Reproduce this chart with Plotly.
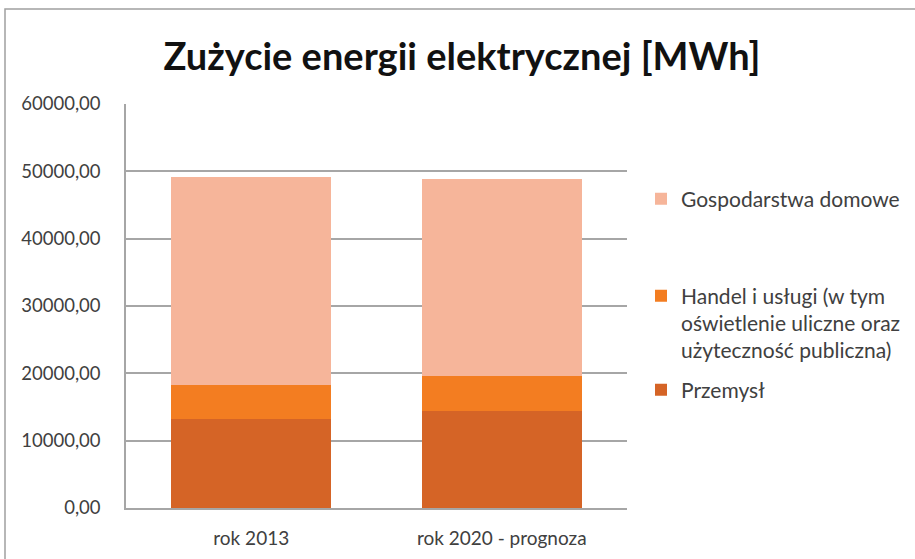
import plotly.graph_objects as go

# Electricity consumption by sector [MWh]
categories = ["rok 2013", "rok 2020 - prognoza"]
przemysl = [13270, 14410]
handel = [4960, 5250]
gospodarstwa = [30910, 29180]

series_names = [
    "Przemysł",
    "Handel i usługi (w tym<br>oświetlenie uliczne oraz<br>użyteczność publiczna)",
    "Gospodarstwa domowe",
]
series_values = [przemysl, handel, gospodarstwa]
series_colors = ["#D56426", "#F37D21", "#F6B59A"]
legend_ids = ["legend3", "legend2", "legend"]

FONT = "Lato"
TEXT = "#404040"
GRID = "#a6a6a6"

fig = go.Figure()
for name, vals, col, lg in zip(series_names, series_values, series_colors, legend_ids):
    fig.add_trace(go.Bar(
        x=categories, y=vals, name=name,
        marker=dict(color=col, line=dict(width=0)),
        legend=lg, showlegend=True,
    ))

W, H = 915, 559
ml, mr, mt, mb = 126, 288, 104, 51
pw, ph = W - ml - mr, H - mt - mb

def px_x(p):
    return (p - ml) / pw

def px_y(p):
    return (H - mb - p) / ph

legend_style = dict(
    x=px_x(641), xanchor="left", yanchor="middle", valign="top",
    font=dict(family=FONT, size=21, color=TEXT),
    bgcolor="rgba(0,0,0,0)",
)

fig.update_layout(
    width=W, height=H,
    margin=dict(l=ml, r=mr, t=mt, b=mb, autoexpand=False),
    paper_bgcolor="white", plot_bgcolor="white",
    barmode="stack", bargap=0.36,
    separators=", ",
    showlegend=True,
    font=dict(family=FONT, size=19, color=TEXT),
    title=dict(
        text="<b>Zużycie energii elektrycznej [MWh]</b>",
        font=dict(family=FONT, size=38, color="#111111"),
        x=462 / W, xanchor="center",
        y=1 - 57 / H, yanchor="middle",
    ),
    legend=dict(legend_style, y=px_y(199)),
    legend2=dict(legend_style, y=px_y(323)),
    legend3=dict(legend_style, y=px_y(390)),
    xaxis=dict(
        showgrid=False, showline=True, linecolor=GRID, linewidth=1.5,
        ticks="", ticklabelstandoff=12,
        tickfont=dict(family=FONT, size=19, color=TEXT),
    ),
    yaxis=dict(
        range=[0, 60000], dtick=10000, tickformat=".2f",
        showgrid=True, gridcolor=GRID, gridwidth=1.5,
        showline=True, linecolor=GRID, linewidth=1.5,
        zeroline=False, ticks="", ticklabelstandoff=20,
        tickfont=dict(family=FONT, size=18.5, color=TEXT),
    ),
    shapes=[dict(
        type="rect", xref="paper", yref="paper",
        x0=px_x(5), x1=px_x(925), y0=px_y(570), y1=px_y(9),
        line=dict(color="#a0a0a0", width=1.5), fillcolor="rgba(0,0,0,0)",
        layer="below",
    )],
)

fig.write_html("out.html")
